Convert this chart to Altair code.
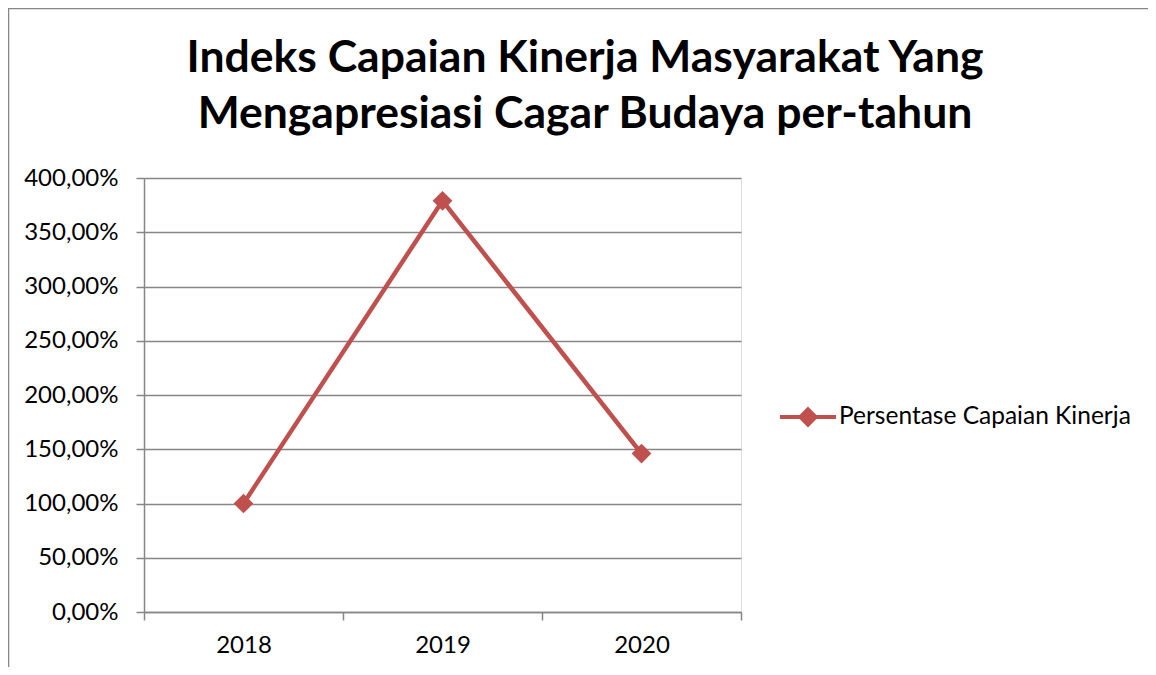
import altair as alt
import pandas as pd

years = ["2018", "2019", "2020"]
values = [100, 379, 146]
series = "Persentase Capaian Kinerja"
title_lines = ["Indeks Capaian Kinerja Masyarakat Yang", "Mengapresiasi Cagar Budaya per-tahun"]
y_ticks = [0, 50, 100, 150, 200, 250, 300, 350, 400]

RED = "#C0504D"
GREY = "#868686"
FONT = "Lato"
LBL = 24

df = pd.DataFrame({"Tahun": years, "Nilai": values, "Seri": [series] * len(years)})

W, H = 597, 434
PL, PT = 136, 170

x_enc = alt.X("Tahun:N", bandPosition=0.5,
              scale=alt.Scale(type="band", paddingInner=0, paddingOuter=0),
              axis=alt.Axis(title=None, labelAngle=0, tickBand="extent", tickSize=8,
                            labelPadding=13, grid=False, domainColor=GREY, tickColor=GREY,
                            domainWidth=1.5, tickWidth=1.5, labelFont=FONT, labelFontSize=LBL,
                            labelColor="black"))
y_enc = alt.Y("Nilai:Q", scale=alt.Scale(domain=[0, 400], nice=False),
              axis=alt.Axis(title=None, values=y_ticks, tickSize=8, labelPadding=18,
                            labelExpr="replace(format(datum.value, '.2f'), '.', ',') + '%'",
                            domainColor=GREY, tickColor=GREY, gridColor=GREY, gridWidth=1.5,
                            domainWidth=1.5, tickWidth=1.5, labelFont=FONT, labelFontSize=LBL,
                            labelColor="black"))
color_enc = alt.Color("Seri:N", scale=alt.Scale(range=[RED]),
                      legend=alt.Legend(title=None, orient="none", legendX=634, legendY=209,
                                        symbolType="M-1,0L1,0M0,-0.27L0.27,0L0,0.27L-0.27,0Z",
                                        symbolSize=3136, symbolStrokeWidth=4,
                                        symbolFillColor=RED, symbolStrokeColor=RED,
                                        labelFont=FONT, labelFontSize=24.5, labelColor="black",
                                        labelOffset=1, labelLimit=0, padding=0))

line = alt.Chart(df).mark_line(strokeWidth=4.5).encode(x=x_enc, y=y_enc, color=color_enc)
pts = alt.Chart(df).mark_point(shape="diamond", size=390, filled=True, opacity=1).encode(
    x=x_enc, y=y_enc, color=alt.Color("Seri:N", scale=alt.Scale(range=[RED]), legend=None))

one = pd.DataFrame({"a": [0]})
top_border = alt.Chart(one).mark_rule(color=GREY, strokeWidth=1.5).encode(
    x=alt.value(-136), x2=alt.value(1004), y=alt.value(-169.5))
left_border = alt.Chart(one).mark_rule(color=GREY, strokeWidth=1.5).encode(
    x=alt.value(-135.5), y=alt.value(-170), y2=alt.value(489))

title1 = alt.Chart(one).mark_text(font=FONT, fontSize=44.5, fontWeight="bold", color="black",
                                  align="center", baseline="alphabetic").encode(
    x=alt.value(441), y=alt.value(-106), text=alt.value(title_lines[0]))
title2 = alt.Chart(one).mark_text(font=FONT, fontSize=44.5, fontWeight="bold", color="black",
                                  align="center", baseline="alphabetic").encode(
    x=alt.value(441), y=alt.value(-50), text=alt.value(title_lines[1]))

chart = alt.layer(top_border, left_border, title1, title2, line, pts).properties(
    width=W, height=H,
    padding={"left": PL, "top": PT, "right": 1140 - PL - W, "bottom": 659 - PT - H},
    autosize=alt.AutoSizeParams(type="none"),
).configure_view(stroke="transparent", strokeWidth=0).configure(background="white")

chart.save("out.html", embed_options={"renderer": "svg", "actions": False})
